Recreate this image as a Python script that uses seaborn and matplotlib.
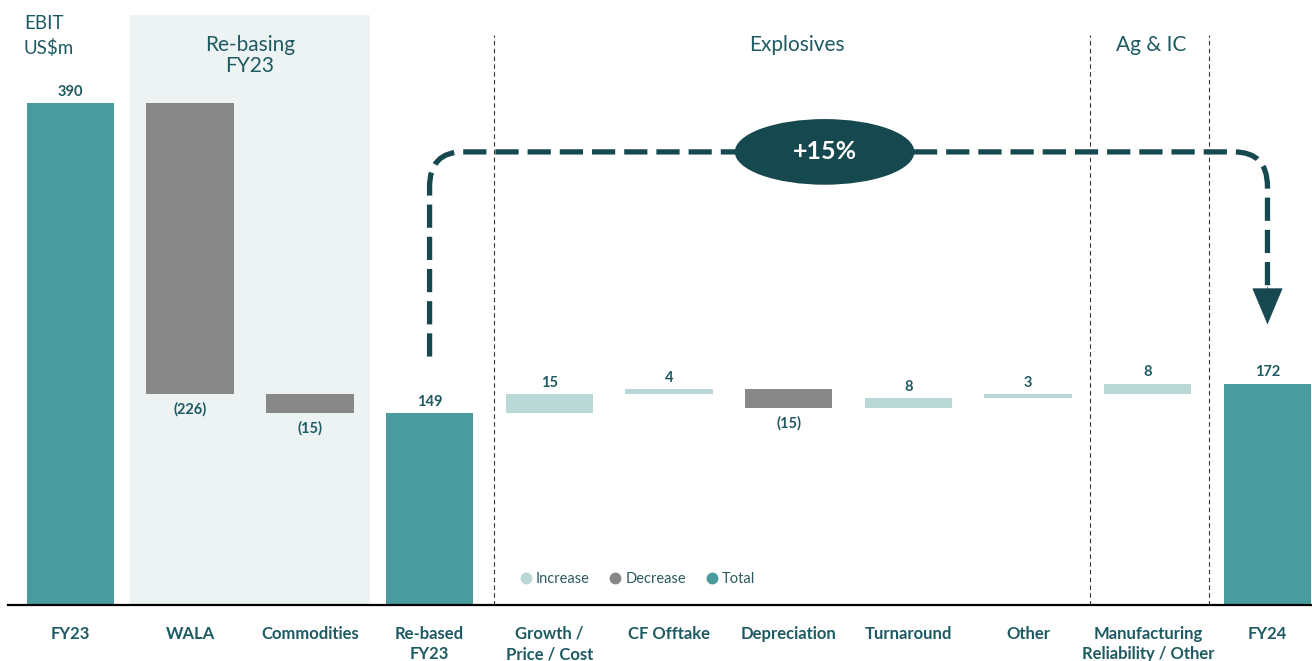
import numpy as np
import pandas as pd
import matplotlib
matplotlib.use("Agg")
import matplotlib.pyplot as plt
import seaborn as sns
from matplotlib.patches import Ellipse, PathPatch
from matplotlib.path import Path
from matplotlib.lines import Line2D

# chart data
categories = ["FY23", "WALA", "Commodities", "Re-based\nFY23", "Growth /\nPrice / Cost",
              "CF Offtake", "Depreciation", "Turnaround", "Other",
              "Manufacturing\nReliability / Other", "FY24"]
values = [390, -226, -15, 149, 15, 4, -15, 8, 3, 8, 172]
kinds = ["Total", "Decrease", "Decrease", "Total", "Increase", "Increase",
         "Decrease", "Increase", "Increase", "Increase", "Total"]
value_labels = ["390", "(226)", "(15)", "149", "15", "4", "(15)", "8", "3", "8", "172"]
legend_labels = ["Increase", "Decrease", "Total"]
section_labels = ["Re-basing\nFY23", "Explosives", "Ag & IC"]
growth_label = "+15%"
unit_label = "EBIT\nUS$m"

colors = {"Total": "#4A9B9E", "Decrease": "#888888", "Increase": "#BAD8D6"}
text_col = "#1E5A62"
dark = "#16484F"

# running totals for the waterfall
bottoms = []
running = 0
for v, k in zip(values, kinds):
    if k == "Total":
        bottoms.append(0)
        running = v
    else:
        bottoms.append(running)
        running += v

df = pd.DataFrame({"cat": categories, "value": values, "bottom": bottoms, "kind": kinds})

sns.set_style("white")
plt.rcParams["font.family"] = ["Lato", "DejaVu Sans"]

fig = plt.figure(figsize=(13.12, 6.61), dpi=100)
ax = fig.add_axes([8 / 1312, 56 / 661, 1304 / 1312, 605 / 661])

# shaded re-basing block
ax.axvspan(0.5, 2.5, ymin=0, ymax=458 / 470, color="#EDF3F3", lw=0, zorder=0)

sns.barplot(data=df, x="cat", y="value", order=categories, bottom=df["bottom"].values,
            width=0.73, errorbar=None, color=colors["Total"], linewidth=0, ax=ax, zorder=2)
for bar, k in zip(ax.containers[0], kinds):
    bar.set_facecolor(colors[k])
    bar.set_edgecolor("none")

# value labels
for i, (v, b, k, lab) in enumerate(zip(values, bottoms, kinds, value_labels)):
    if v >= 0:
        ax.annotate(lab, (i, b + v), xytext=(0, 3), textcoords="offset points",
                    ha="center", va="bottom", fontsize=10.5, fontweight="bold", color=text_col)
    else:
        ax.annotate(lab, (i, b + v), xytext=(0, -6), textcoords="offset points",
                    ha="center", va="top", fontsize=10.5, fontweight="bold", color=text_col)

# section separators
ax.vlines([3.54, 8.52, 9.51], 0, 443, colors="#333333", linewidth=0.8,
          linestyles=(0, (4, 3)), zorder=1)

# section headers
ax.text(1.5, 427, section_labels[0], ha="center", va="center", fontsize=15,
        color=text_col, linespacing=1.1)
ax.text(6.07, 435, section_labels[1], ha="center", va="center", fontsize=15, color=text_col)
ax.text(9.03, 435, section_labels[2], ha="center", va="center", fontsize=15, color=text_col)
ax.text(-0.39, 442, unit_label, ha="left", va="center", fontsize=13.5,
        color=text_col, linespacing=1.45)

# growth arrow
x0, x1 = categories.index("Re-based\nFY23"), categories.index("FY24")
top = 352
rx, ry = 0.28, 27
verts = [(x0, 193), (x0, top - ry), (x0, top), (x0 + rx, top),
         (x1 - rx, top), (x1, top), (x1, top - ry), (x1, 246)]
codes = [Path.MOVETO, Path.LINETO, Path.CURVE3, Path.CURVE3,
         Path.LINETO, Path.CURVE3, Path.CURVE3, Path.LINETO]
ax.add_patch(PathPatch(Path(verts, codes), fill=False, edgecolor=dark, lw=3.8,
                       linestyle=(0, (4.4, 1.7)), capstyle="butt", zorder=3))
ax.annotate("", xy=(x1, 218), xytext=(x1, 247),
            arrowprops=dict(arrowstyle="-|>,head_length=2.5,head_width=1.05",
                            color=dark, lw=0.5, shrinkA=0, shrinkB=0, mutation_scale=10),
            zorder=3)
ax.add_patch(Ellipse((6.30, top), 1.50, 51, facecolor=dark, edgecolor="none", zorder=4))
ax.text(6.30, top, growth_label, ha="center", va="center", fontsize=18,
        fontweight="bold", color="white", zorder=5)

# legend
handles = [Line2D([], [], marker="o", ls="", color=colors[k], markersize=7.5)
           for k in legend_labels]
ax.legend(handles, legend_labels, loc="center left", bbox_to_anchor=(3.64, 20),
          bbox_transform=ax.transData, ncol=3, frameon=False, handletextpad=0.25,
          handlelength=0.9, columnspacing=1.3, fontsize=10.5, labelcolor="#2E5A60")

# axes styling
ax.set_xlim(-0.522, 10.372)
ax.set_ylim(0, 470)
ax.set_xticks(range(len(categories)))
ax.set_xticklabels(categories, fontsize=12, fontweight="bold", color=text_col,
                   linespacing=1.35)
ax.tick_params(axis="x", length=0, pad=15)
ax.set_yticks([])
ax.set_xlabel("")
ax.set_ylabel("")
for s in ["top", "right", "left"]:
    ax.spines[s].set_visible(False)
ax.spines["bottom"].set_color("black")
ax.spines["bottom"].set_linewidth(1.6)
ax.spines["bottom"].set_zorder(6)

fig.savefig("out.png", dpi=100)
